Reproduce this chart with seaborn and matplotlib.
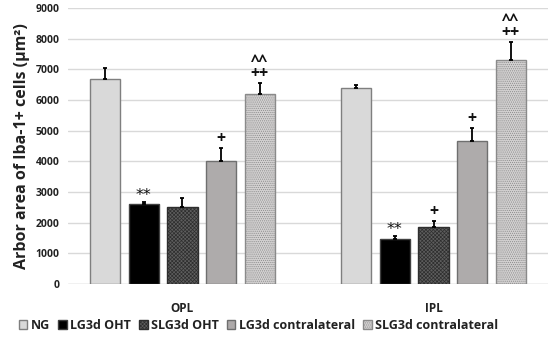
import numpy as np
import pandas as pd
import matplotlib.pyplot as plt
import matplotlib.patches as mpatches
import seaborn as sns

# values
regions = ['OPL', 'IPL']
groups = ['NG', 'LG3d OHT', 'SLG3d OHT', 'LG3d contralateral', 'SLG3d contralateral']
means = {
    'OPL': [6680, 2600, 2500, 4000, 6200],
    'IPL': [6380, 1480, 1850, 4650, 7300],
}
errors = {
    'OPL': [380, 80, 320, 450, 350],
    'IPL': [120, 70, 200, 450, 600],
}
marks = {
    'OPL': ['', '**', '', '+', '^^\n++'],
    'IPL': ['', '**', '+', '+', '^^\n++'],
}

face = ['#d9d9d9', '#000000', '#5e5e5e', '#aeaaaa', '#d3d1d1']
edge = ['#7f7f7f', '#404040', '#2e2e2e', '#6f6f6f', '#8a8a8a']
hatch = [None, None, 'xxxxxxxxx', None, '........']

rows = []
for r in regions:
    for g, m in zip(groups, means[r]):
        rows.append({'region': r, 'group': g, 'value': m})
df = pd.DataFrame(rows)

sns.set_theme(style='white')
plt.rcParams['font.family'] = ['Open Sans', 'DejaVu Sans']
plt.rcParams['hatch.linewidth'] = 0.5

fig = plt.figure(figsize=(5.5, 3.4), dpi=100)
ax = fig.add_axes([0.124, 0.165, 0.872, 0.811])

sns.barplot(data=df, x='region', y='value', hue='group', order=regions,
            hue_order=groups, palette=face, width=0.77, gap=0.22,
            legend=False, ax=ax, errorbar=None)

# style each bar; patches come ordered by hue, then region
for i, p in enumerate(ax.patches):
    gi = i // len(regions)
    p.set_edgecolor(edge[gi])
    p.set_linewidth(1.0)
    if hatch[gi]:
        p.set_hatch(hatch[gi])

for i, p in enumerate(ax.patches):
    gi = i // len(regions)
    ri = i % len(regions)
    r = regions[ri]
    xc = p.get_x() + p.get_width() / 2
    top = means[r][gi]
    err = errors[r][gi]
    ax.errorbar(xc, top, yerr=[[0], [err]], fmt='none', ecolor='black',
                elinewidth=1.3, capsize=1.5, capthick=1.3)
    txt = marks[r][gi]
    if not txt:
        continue
    if '*' in txt:
        ax.text(xc, top + err - 30, txt, ha='center', va='bottom', fontsize=11.5,
                color='#111111', family='DejaVu Sans')
    else:
        ax.text(xc, top + err + 30, txt, ha='center', va='bottom', fontsize=11.5,
                fontweight='bold', color='#111111', linespacing=0.7)

ax.set_ylim(0, 9000)
ax.set_yticks(range(0, 9001, 1000))
ax.yaxis.grid(True, color='#d9d9d9', linewidth=1)
ax.set_axisbelow(True)
for s in ax.spines.values():
    s.set_visible(False)
ax.axhline(0, color='#d9d9d9', linewidth=1, zorder=0)

ax.set_xlabel('')
ax.set_ylabel('Arbor area of Iba-1+ cells (µm²)', fontsize=11.5,
              fontweight='bold', color='#222222', labelpad=4)
ax.tick_params(axis='y', labelsize=7.5, length=0, pad=6)
ax.tick_params(axis='x', labelsize=8.5, length=0, pad=13)
for lbl in ax.get_yticklabels() + ax.get_xticklabels():
    lbl.set_fontweight('bold')
    lbl.set_color('#222222')

handles = [mpatches.Patch(facecolor=face[k], edgecolor=edge[k], hatch=hatch[k],
                          label=groups[k]) for k in range(len(groups))]
leg = fig.legend(handles=handles, loc='lower center', bbox_to_anchor=(0.47, -0.01),
                 ncol=5, frameon=False, fontsize=9, handlelength=0.7,
                 handleheight=0.7, handletextpad=0.3, columnspacing=0.6)
for t in leg.get_texts():
    t.set_fontweight('bold')
    t.set_color('#222222')

fig.savefig('out.png', dpi=100)
